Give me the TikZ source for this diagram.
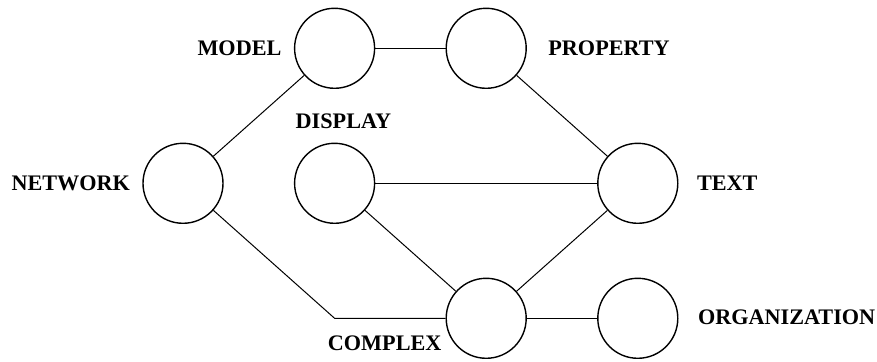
\documentclass[tikz,border=0pt]{standalone}
\usepackage{fontspec}
\setmainfont{Liberation Serif}
\usetikzlibrary{positioning}

\begin{document}
\begin{tikzpicture}[
  line width=0.5pt,
  c/.style={draw, circle, line width=0.7pt, minimum size=40pt, inner sep=0pt, on grid},
  lbl/.style={inner sep=0pt, font=\fontsize{11.1}{13}\selectfont\bfseries},
  node distance=67.5pt and 75.8pt,
]
\useasboundingbox (-91.5pt,91.65pt) rectangle (347pt,-89.35pt);

% circles
\node[c] (network) at (0,0) {};
\node[c, above right=of network] (model) {};
\node[c, right=of network] (display) {};
\node[c, right=of model] (property) {};
\node[c, right=151.6pt of display] (text) {};
\node[c, below right=of display] (complex) {};
\node[c, right=of complex] (organization) {};
\coordinate (bend) at (display |- complex);

% labels
\node[lbl, left=5.9pt of network] (network-lbl) {NETWORK};
\node[lbl, left=6pt of model] (model-lbl) {MODEL};
\node[lbl, above=6.7pt of display, xshift=4.4pt] (display-lbl) {DISPLAY};
\node[lbl, right=10.5pt of property] (property-lbl) {PROPERTY};
\node[lbl, right=9pt of text] (text-lbl) {TEXT};
\node[lbl, left=1.8pt of complex, yshift=-12.25pt] (complex-lbl) {COMPLEX};
\node[lbl, right=9.5pt of organization, yshift=0.5pt] (organization-lbl) {ORGANIZATION};

% links
\draw (network) -- (model);
\draw (model) -- (property);
\draw (property) -- (text);
\draw (display) -- (text);
\draw (display) -- (complex);
\draw (text) -- (complex);
\draw (complex) -- (organization);
\draw (network) -- (bend) -- (complex);
\end{tikzpicture}
\end{document}
